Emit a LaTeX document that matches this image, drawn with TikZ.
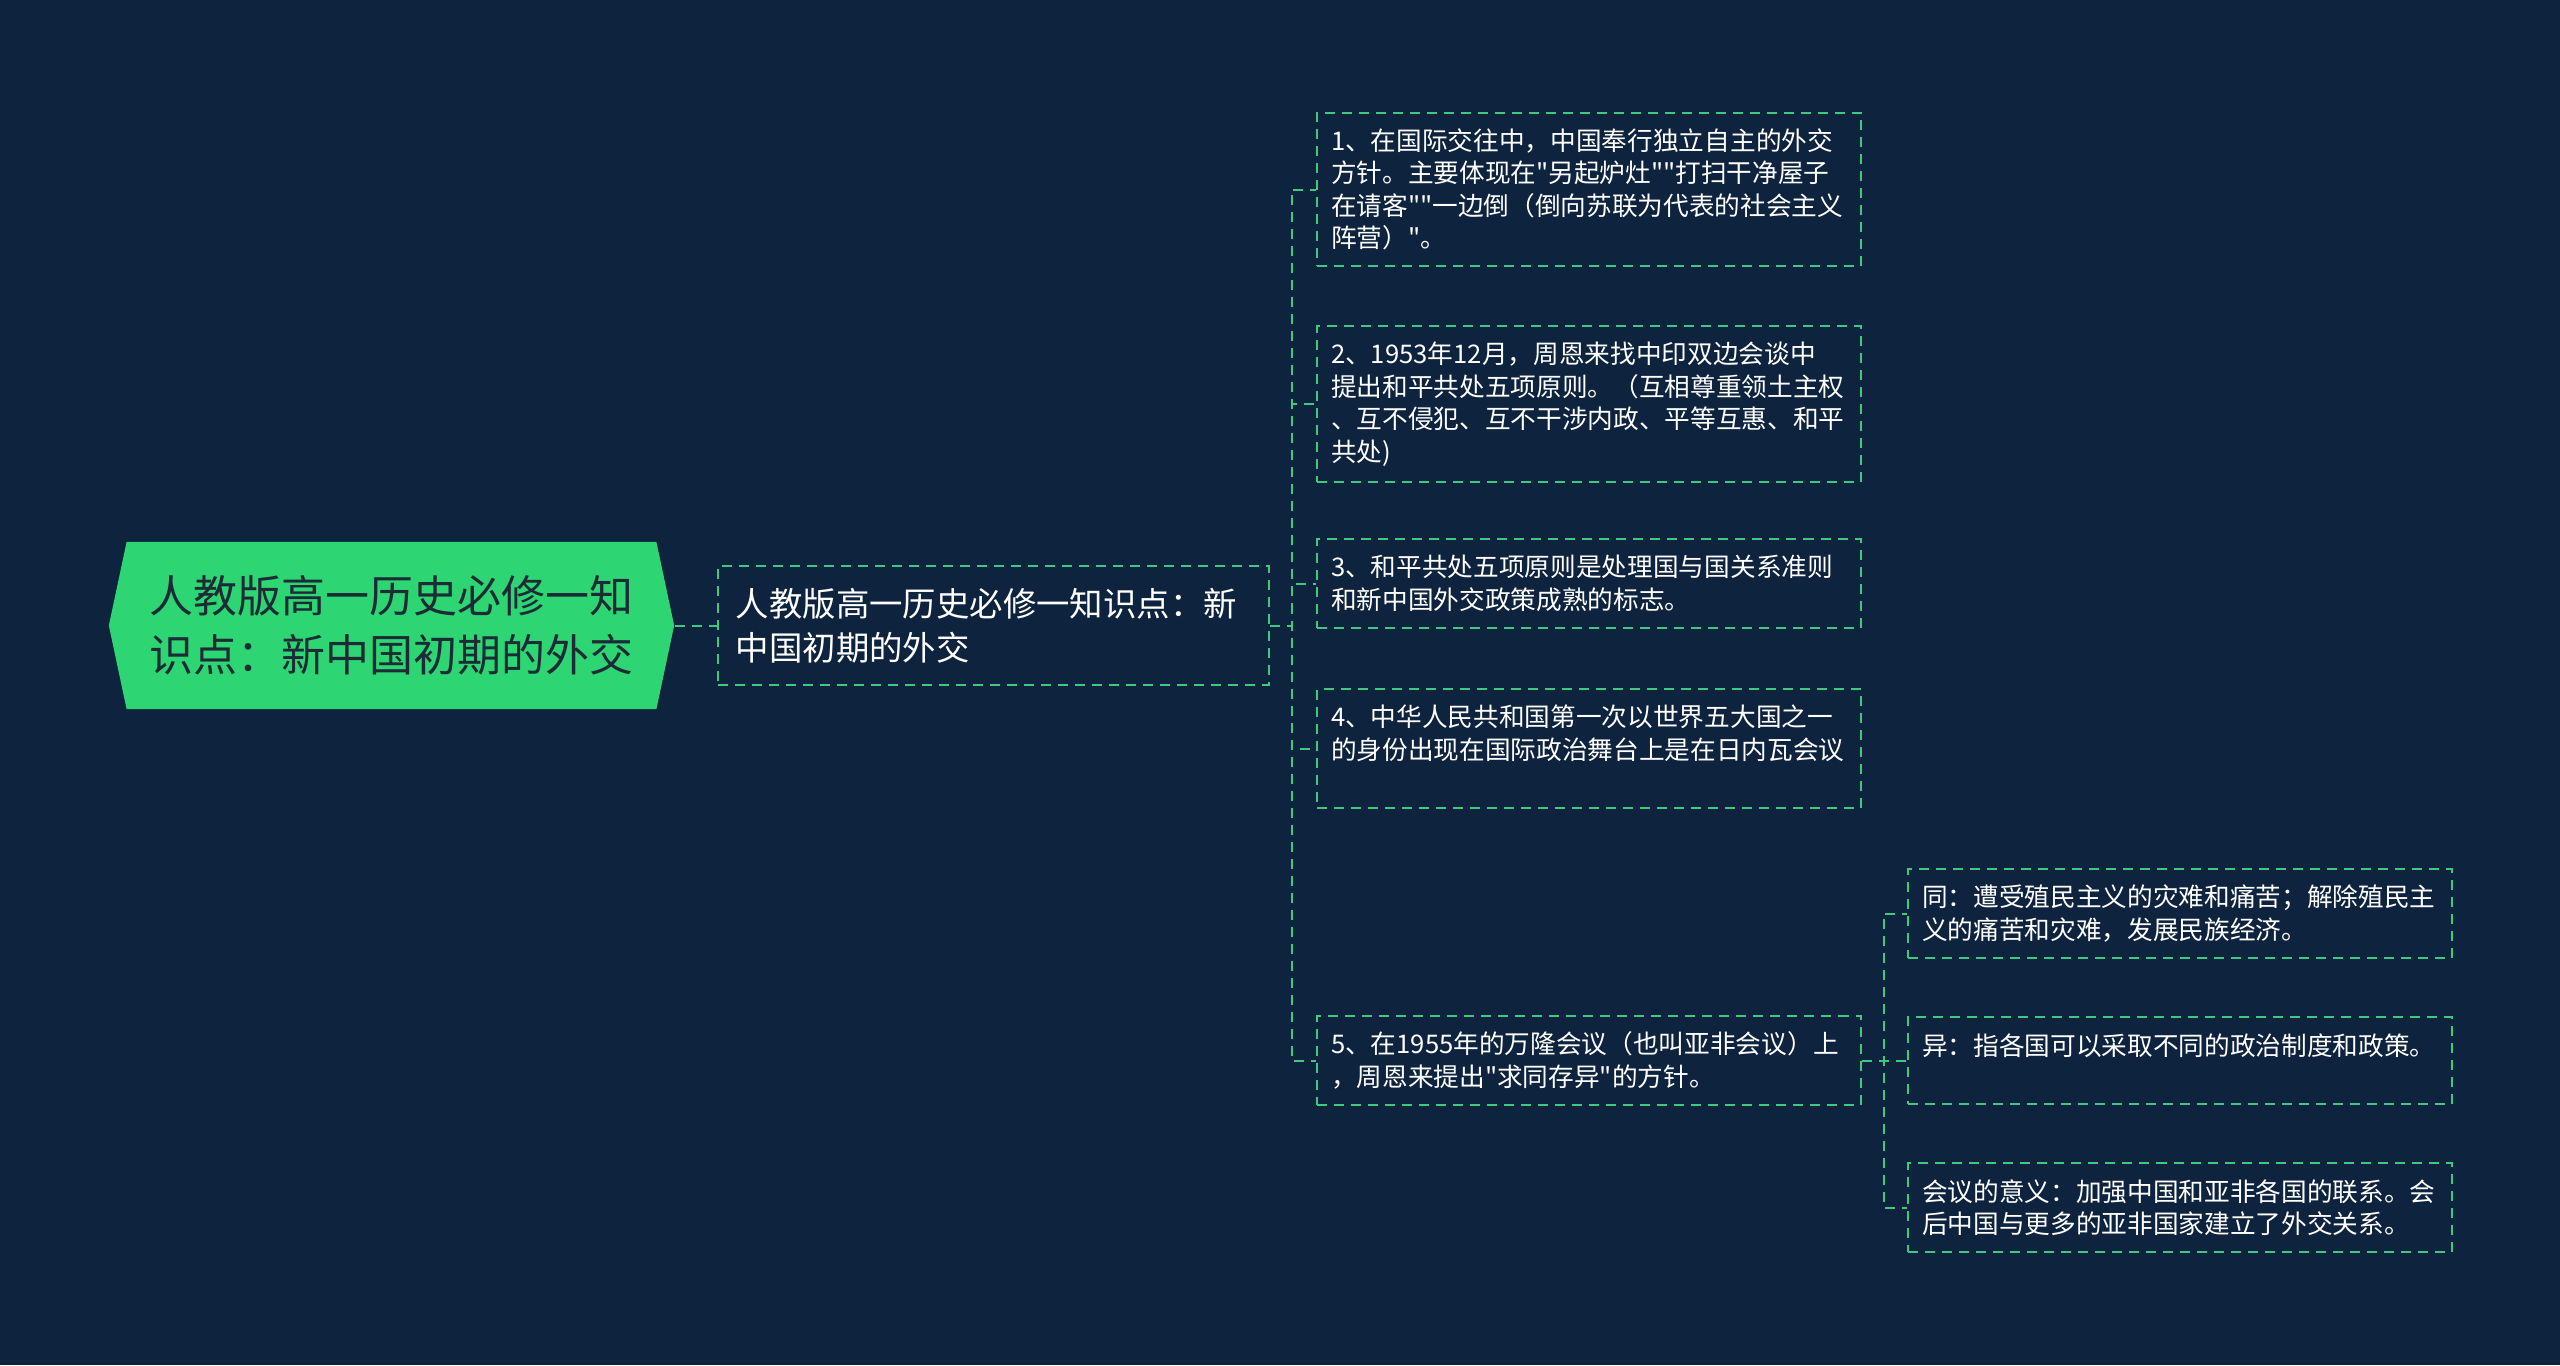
\documentclass[tikz,border=0pt]{standalone}
\usepackage{fontspec}
\setmainfont{Noto Sans CJK SC}[Ligatures=TeXOff]
\usepackage{tikz}
\usetikzlibrary{positioning}
\usetikzlibrary{shapes.symbols}
\tikzstyle{mindMap} = [x = .01cm, y = -.01cm]
\definecolor{canvasColor}{RGB}{13,35,62}
\definecolor{branchColor}{RGB}{63,201,126}
\definecolor{rootColor}{RGB}{46,213,115}
\definecolor{rootTextColor}{RGB}{28,43,54}
\tikzstyle{rootStyle} = [shape=signal, signal to=west and east, signal pointer angle=156, fill=rootColor, text=rootTextColor, font=\fontsize{12.5pt}{16.8pt}\selectfont, align=left, minimum width=5.65cm, minimum height=1.67cm, inner sep=0pt]
\tikzstyle{boxLine} = [draw=branchColor, line width=.02cm, dash pattern=on .1cm off .07cm]
\tikzstyle{topicStyle} = [boxLine, text=white, font=\fontsize{9.5pt}{12.5pt}\selectfont, text width=5.15cm, align=left, inner xsep=.18cm, inner ysep=.22cm]
\tikzstyle{leafStyle} = [boxLine, text=white, font=\fontsize{7.3pt}{9.25pt}\selectfont, text width=5.16cm, align=left, inner xsep=.14cm, inner ysep=.16cm, anchor=west]
\tikzstyle{connector} = [boxLine]
\newcommand{\branchLink}[2]{\draw [connector] (#1.east) -- ++(22,0) |- (#2.west);}
\newcommand{\emptyLine}{\\ \mbox{}}

\begin{document}
\begin{tikzpicture}[mindMap]
  \fill [canvasColor] (0,0) rectangle (2560,1365);
  \useasboundingbox (0,0) rectangle (2560,1365);

  \node [rootStyle] (root) at (391.5,625.5) {人教版高一历史必修一知\\识点：新中国初期的外交};
  \node [topicStyle] (topic) at (993.5,625.5) {人教版高一历史必修一知识点：新\\中国初期的外交};

  \node [leafStyle] (first) at (1316,189.5) {1、在国际交往中，中国奉行独立自主的外交\\方针。主要体现在"另起炉灶""打扫干净屋子\\在请客""一边倒（倒向苏联为代表的社会主义\\阵营）"。};
  \node [leafStyle] (second) at (1316,404) {2、1953年12月，周恩来找中印双边会谈中\\提出和平共处五项原则。（互相尊重领土主权\\、互不侵犯、互不干涉内政、平等互惠、和平\\共处)};
  \node [leafStyle] (third) at (1316,583.5) {3、和平共处五项原则是处理国与国关系准则\\和新中国外交政策成熟的标志。};
  \node [leafStyle] (fourth) at (1316,748.5) {4、中华人民共和国第一次以世界五大国之一\\的身份出现在国际政治舞台上是在日内瓦会议\emptyLine};
  \node [leafStyle] (fifth) at (1316,1060.5) {5、在1955年的万隆会议（也叫亚非会议）上\\，周恩来提出"求同存异"的方针。};

  \node [leafStyle] (same) at (1907,913.5) {同：遭受殖民主义的灾难和痛苦；解除殖民主\\义的痛苦和灾难，发展民族经济。};
  \node [leafStyle] (differ) at (1907,1060.5) {异：指各国可以采取不同的政治制度和政策。\emptyLine};
  \node [leafStyle] (meaning) at (1907,1207.5) {会议的意义：加强中国和亚非各国的联系。会\\后中国与更多的亚非国家建立了外交关系。};

  \draw [connector] (root.east) -- (topic.west);
  \branchLink{topic}{first}
  \branchLink{topic}{second}
  \branchLink{topic}{third}
  \branchLink{topic}{fourth}
  \branchLink{topic}{fifth}
  \branchLink{fifth}{same}
  \branchLink{fifth}{differ}
  \branchLink{fifth}{meaning}
\end{tikzpicture}
\end{document}
